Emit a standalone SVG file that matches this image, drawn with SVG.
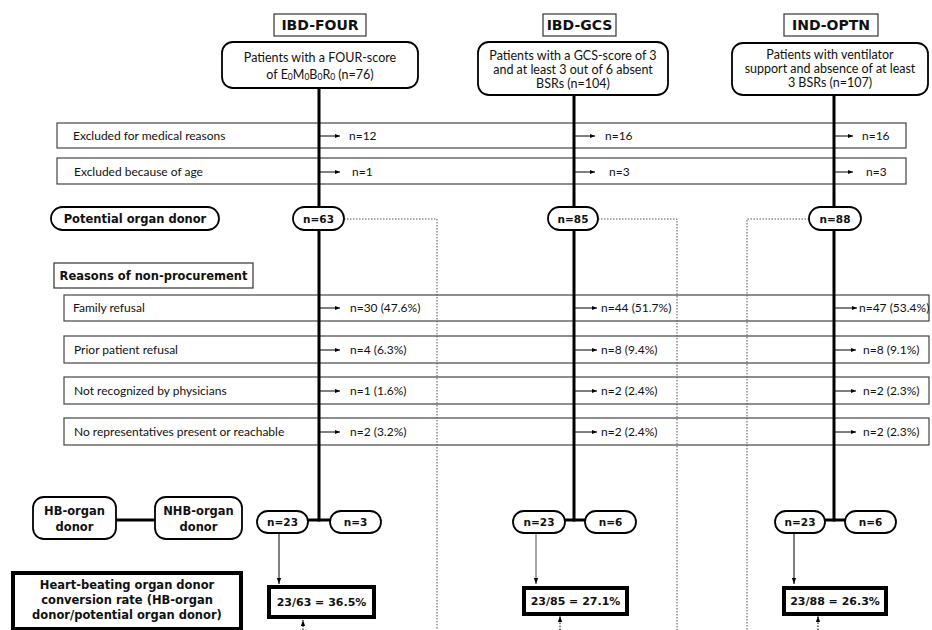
<svg xmlns="http://www.w3.org/2000/svg" width="932" height="630" viewBox="0 0 932 630">
<defs>
<marker id="ah" viewBox="0 0 10 10" refX="10" refY="5" markerWidth="5" markerHeight="5" orient="auto" markerUnits="userSpaceOnUse"><path d="M0,1 L10,5 L0,9 z" fill="#000"/></marker>
<marker id="ahs" viewBox="0 0 10 10" refX="10" refY="5" markerWidth="6" markerHeight="6" orient="auto" markerUnits="userSpaceOnUse"><path d="M0,1.5 L10,5 L0,8.5 z" fill="#000"/></marker>
</defs>
<style>
text{font-family:Lato,"Open Sans","Liberation Sans",sans-serif;fill:#111}
.t{font-size:12px}
.p{font-size:12.5px;text-anchor:middle}
.b{font-family:"DejaVu Sans","Liberation Sans",sans-serif;font-weight:bold;font-size:11.5px;text-anchor:middle}
.n{font-family:"DejaVu Sans","Liberation Sans",sans-serif;font-weight:bold;font-size:10.5px;text-anchor:middle}
.r{font-family:"DejaVu Sans","Liberation Sans",sans-serif;font-weight:bold;font-size:11px;text-anchor:middle}
.h{font-family:"DejaVu Sans","Liberation Sans",sans-serif;font-weight:bold;font-size:14px;text-anchor:middle}
.row{fill:#fff;stroke:#444;stroke-width:1.2}
.hdr{fill:#fff;stroke:#333;stroke-width:1.2}
.pill{fill:#fff;stroke:#000;stroke-width:1.8}
.rate{fill:#fff;stroke:#000;stroke-width:4}
.main{stroke:#000;stroke-width:3;fill:none}
.arr{stroke:#000;stroke-width:1;fill:none;marker-end:url(#ah)}
.dot{stroke:#555;stroke-width:1;fill:none;stroke-dasharray:1.5 1.5}
</style>
<rect width="932" height="630" fill="#fff"/>

<!-- headers -->
<g id="hdr-four"><rect class="hdr" x="274" y="14" width="92" height="22"/><text class="h" x="320" y="30">IBD-FOUR</text></g>
<g id="hdr-gcs"><rect class="hdr" x="543" y="14" width="73" height="22"/><text class="h" x="579.5" y="30">IBD-GCS</text></g>
<g id="hdr-optn"><rect class="hdr" x="784" y="14" width="94" height="22"/><text class="h" x="831" y="30">IND-OPTN</text></g>

<!-- row boxes -->
<g id="row-medical"><rect class="row" x="57" y="123" width="849" height="25"/><text class="t" x="73" y="140">Excluded for medical reasons</text></g>
<g id="row-age"><rect class="row" x="57" y="158" width="849" height="26"/><text class="t" x="74" y="176">Excluded because of age</text></g>
<g id="reasons-title"><rect class="hdr" x="54" y="263" width="199" height="25"/><text class="b" x="153.5" y="280">Reasons of non-procurement</text></g>
<g id="row-family"><rect class="row" x="64" y="295" width="865" height="26"/><text class="t" x="73" y="312">Family refusal</text></g>
<g id="row-prior"><rect class="row" x="64" y="336" width="865" height="27"/><text class="t" x="74" y="354">Prior patient refusal</text></g>
<g id="row-notrec"><rect class="row" x="64" y="377" width="865" height="27"/><text class="t" x="74" y="395">Not recognized by physicians</text></g>
<g id="row-norep"><rect class="row" x="64" y="418" width="865" height="27"/><text class="t" x="74" y="436">No representatives present or reachable</text></g>

<!-- connectors -->
<g id="connectors">
<line class="main" x1="319" y1="88" x2="319" y2="521.5"/>
<line class="main" x1="574" y1="95" x2="574" y2="521.5"/>
<line class="main" x1="834" y1="95" x2="834" y2="521.5"/>
<line class="main" x1="308" y1="520" x2="330" y2="520"/>
<line class="main" x1="565" y1="520" x2="585" y2="520"/>
<line class="main" x1="825" y1="520" x2="845" y2="520"/>
<line class="main" x1="116" y1="520" x2="155" y2="520"/>
<line class="arr" x1="320" y1="136" x2="340" y2="136"/>
<line class="arr" x1="320" y1="172" x2="340" y2="172"/>
<line class="arr" x1="320" y1="308" x2="340" y2="308"/>
<line class="arr" x1="320" y1="350" x2="340" y2="350"/>
<line class="arr" x1="320" y1="391" x2="340" y2="391"/>
<line class="arr" x1="320" y1="432" x2="340" y2="432"/>
<line class="arr" x1="575" y1="136" x2="595" y2="136"/>
<line class="arr" x1="575" y1="172" x2="595" y2="172"/>
<line class="arr" x1="575" y1="308" x2="597" y2="308"/>
<line class="arr" x1="575" y1="350" x2="597" y2="350"/>
<line class="arr" x1="575" y1="391" x2="597" y2="391"/>
<line class="arr" x1="575" y1="432" x2="597" y2="432"/>
<line class="arr" x1="835" y1="136" x2="853" y2="136"/>
<line class="arr" x1="835" y1="172" x2="853" y2="172"/>
<line class="arr" x1="835" y1="308" x2="857" y2="308"/>
<line class="arr" x1="835" y1="350" x2="856" y2="350"/>
<line class="arr" x1="835" y1="391" x2="856" y2="391"/>
<line class="arr" x1="835" y1="432" x2="856" y2="432"/>
<polyline class="dot" points="344,219 437,219 437,630"/>
<polyline class="dot" points="598,219 677,219 677,630"/>
<polyline class="dot" points="809,219 747,219 747,630"/>
<line x1="279" y1="533" x2="279" y2="584" stroke="#000" stroke-width="1" marker-end="url(#ahs)"/>
<line x1="536" y1="533" x2="536" y2="584" stroke="#555" stroke-width="1" marker-end="url(#ahs)"/>
<line x1="794" y1="533" x2="794" y2="584" stroke="#000" stroke-width="1" marker-end="url(#ahs)"/>
<line x1="303" y1="630" x2="303" y2="620" stroke="#000" stroke-width="1" stroke-dasharray="1.5 1.5" marker-end="url(#ahs)"/>
<line x1="560" y1="630" x2="560" y2="616" stroke="#000" stroke-width="1" stroke-dasharray="1.5 1.5" marker-end="url(#ahs)"/>
<line x1="818" y1="630" x2="818" y2="616" stroke="#000" stroke-width="1" stroke-dasharray="1.5 1.5" marker-end="url(#ahs)"/>
</g>

<!-- row values -->
<g id="vals-four">
<text class="t" x="349" y="140">n=12</text>
<text class="t" x="352" y="176">n=1</text>
<text class="t" x="350" y="312">n=30 (47.6%)</text>
<text class="t" x="350" y="354">n=4 (6.3%)</text>
<text class="t" x="350" y="395">n=1 (1.6%)</text>
<text class="t" x="350" y="436">n=2 (3.2%)</text>
</g>
<g id="vals-gcs">
<text class="t" x="605" y="140">n=16</text>
<text class="t" x="609" y="176">n=3</text>
<text class="t" x="601" y="312">n=44 (51.7%)</text>
<text class="t" x="601" y="354">n=8 (9.4%)</text>
<text class="t" x="601" y="395">n=2 (2.4%)</text>
<text class="t" x="601" y="436">n=2 (2.4%)</text>
</g>
<g id="vals-optn">
<text class="t" x="862" y="140">n=16</text>
<text class="t" x="866" y="176">n=3</text>
<text class="t" x="859" y="312">n=47 (53.4%)</text>
<text class="t" x="863" y="354">n=8 (9.1%)</text>
<text class="t" x="863" y="395">n=2 (2.3%)</text>
<text class="t" x="863" y="436">n=2 (2.3%)</text>
</g>

<!-- patient boxes -->
<g id="pat-four"><rect class="pill" x="222" y="42" width="196" height="46" rx="11"/>
<text class="p" x="320" y="62">Patients with a FOUR-score</text>
<text class="p" x="320" y="79">of E<tspan font-size="8.5" dy="1">0</tspan><tspan dy="-1">M</tspan><tspan font-size="8.5" dy="1">0</tspan><tspan dy="-1">B</tspan><tspan font-size="8.5" dy="1">0</tspan><tspan dy="-1">R</tspan><tspan font-size="8.5" dy="1">0</tspan><tspan dy="-1"> (n=76)</tspan></text></g>
<g id="pat-gcs"><rect class="pill" x="478" y="42" width="190" height="53" rx="11"/>
<text class="p" x="573" y="60">Patients with a GCS-score of 3</text>
<text class="p" x="573" y="74">and at least 3 out of 6 absent</text>
<text class="p" x="573" y="88">BSRs (n=104)</text></g>
<g id="pat-optn"><rect class="pill" x="732" y="43" width="196" height="52" rx="11"/>
<text class="p" x="830" y="59">Patients with ventilator</text>
<text class="p" x="830" y="73">support and absence of at least</text>
<text class="p" x="830" y="87">3 BSRs (n=107)</text></g>

<!-- potential donors -->
<g id="potential"><rect class="pill" x="51" y="207" width="168" height="23" rx="11.5"/><text class="b" x="135" y="223">Potential organ donor</text></g>
<g id="n63"><rect class="pill" x="293" y="207" width="51" height="23" rx="11.5"/><text class="n" x="318.5" y="223">n=63</text></g>
<g id="n85"><rect class="pill" x="548" y="207" width="50" height="23" rx="11.5"/><text class="n" x="573" y="223">n=85</text></g>
<g id="n88"><rect class="pill" x="809" y="207" width="52" height="23" rx="11.5"/><text class="n" x="835" y="223">n=88</text></g>

<!-- legend -->
<g id="hb-legend"><rect class="pill" x="33" y="497" width="83" height="42" rx="11"/><text class="b" x="74.5" y="515">HB-organ</text><text class="b" x="74.5" y="531">donor</text></g>
<g id="nhb-legend"><rect class="pill" x="155" y="497" width="87" height="42" rx="11"/><text class="b" x="198.5" y="515">NHB-organ</text><text class="b" x="198.5" y="531">donor</text></g>

<!-- bottom pills -->
<g id="four-hb"><rect class="pill" x="257" y="511" width="51" height="22" rx="11"/><text class="n" x="282.5" y="526">n=23</text></g>
<g id="four-nhb"><rect class="pill" x="330" y="511" width="51" height="22" rx="11"/><text class="n" x="355.5" y="526">n=3</text></g>
<g id="gcs-hb"><rect class="pill" x="513" y="511" width="52" height="22" rx="11"/><text class="n" x="539" y="526">n=23</text></g>
<g id="gcs-nhb"><rect class="pill" x="585" y="511" width="51" height="22" rx="11"/><text class="n" x="610.5" y="526">n=6</text></g>
<g id="optn-hb"><rect class="pill" x="775" y="511" width="50" height="22" rx="11"/><text class="n" x="800" y="526">n=23</text></g>
<g id="optn-nhb"><rect class="pill" x="845" y="511" width="51" height="22" rx="11"/><text class="n" x="870.5" y="526">n=6</text></g>

<!-- rate boxes -->
<g id="rate-legend"><rect class="rate" x="13" y="573" width="228" height="56"/>
<text class="b" x="127" y="589">Heart-beating organ donor</text>
<text class="b" x="127" y="604">conversion rate (HB-organ</text>
<text class="b" x="127" y="619">donor/potential organ donor)</text></g>
<g id="rate-four"><rect class="rate" x="269" y="587" width="105" height="30"/><text class="r" x="321.5" y="606">23/63 = 36.5%</text></g>
<g id="rate-gcs"><rect class="rate" x="524" y="588" width="103" height="26"/><text class="r" x="575.5" y="605">23/85 = 27.1%</text></g>
<g id="rate-optn"><rect class="rate" x="784" y="588" width="102" height="26"/><text class="r" x="835" y="605">23/88 = 26.3%</text></g>
</svg>
